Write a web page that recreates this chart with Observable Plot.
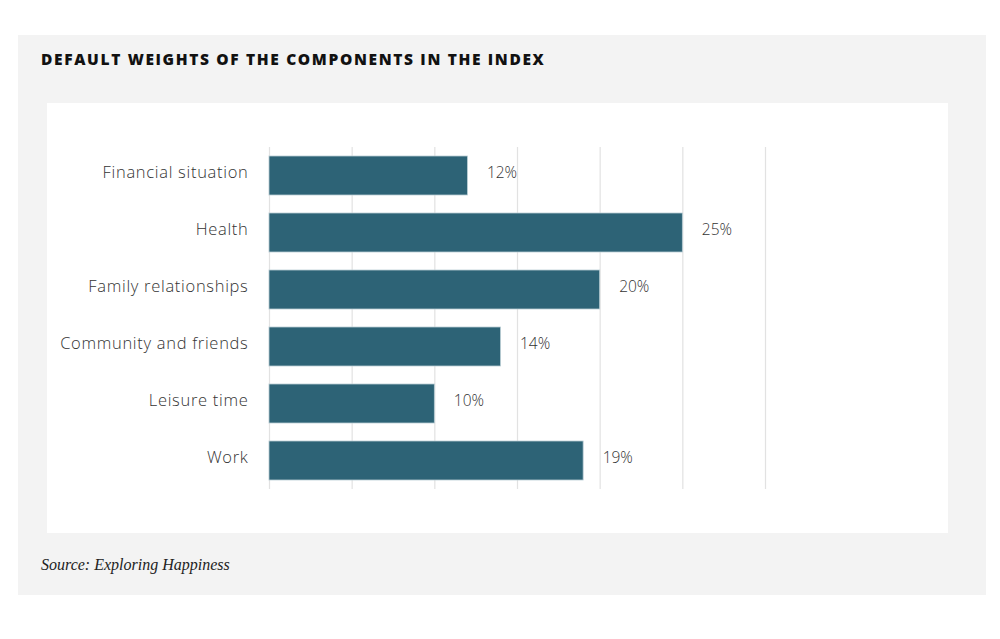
<!DOCTYPE html>
<html><head><meta charset="utf-8">
<script src="https://cdn.jsdelivr.net/npm/d3@7"></script>
<script src="https://cdn.jsdelivr.net/npm/@observablehq/plot@0.6"></script>
<style>
html,body{margin:0;padding:0;background:#fff;}
#outer{position:absolute;left:18px;top:35px;width:968px;height:560px;background:#f3f3f3;}
#title{position:absolute;left:23px;top:13px;font-family:"Open Sans",sans-serif;font-weight:800;font-size:15.5px;color:#111;letter-spacing:1.65px;white-space:nowrap;}
#panel{position:absolute;left:29px;top:68px;width:901px;height:430px;background:#fff;}
#source{position:absolute;left:23px;top:521px;font-family:"Liberation Serif",serif;font-style:italic;font-size:16px;color:#222;}
.ylab text{letter-spacing:0.7px;}
</style></head>
<body>
<div id="outer">
  <div id="title">DEFAULT WEIGHTS OF THE COMPONENTS IN THE INDEX</div>
  <div id="panel"></div>
  <div id="source">Source: Exploring Happiness</div>
</div>
<script>
const categories = ["Financial situation","Health","Family relationships","Community and friends","Leisure time","Work"];
const values = [12, 25, 20, 14, 10, 19];
const gridTicks = [0, 5, 10, 15, 20, 25, 30];

const data = categories.map((c, i) => ({category: c, value: values[i]}));

const chart = Plot.plot({
  width: 901,
  height: 430,
  marginLeft: 222,
  marginRight: 183,
  marginTop: 44,
  marginBottom: 44,
  style: {background: "transparent", fontFamily: "'Open Sans', sans-serif"},
  x: {domain: [0, 30], axis: null},
  y: {domain: categories, paddingInner: 0.316, paddingOuter: 0.158, label: null},
  marks: [
    Plot.gridX(gridTicks, {stroke: "#e2e2e2", strokeOpacity: 1, strokeWidth: 1.2}),
    Plot.barX(data, {x: "value", y: "category", fill: "#2d6376", stroke: "#b9cdd4", strokeWidth: 0.8}),
    Plot.text(data, {x: "value", y: "category", text: d => d.value + "%", textAnchor: "start", dx: 19, dy: -3, fontSize: 15.5, fontWeight: 300, fill: "#333"}),
    Plot.axisY({tickSize: 0, tickPadding: 21, dy: -3, fontSize: 16.5, fontWeight: 300, color: "#333", label: null, className: "ylab"})
  ]
});
document.getElementById("panel").appendChild(chart);
</script>
</body></html>
